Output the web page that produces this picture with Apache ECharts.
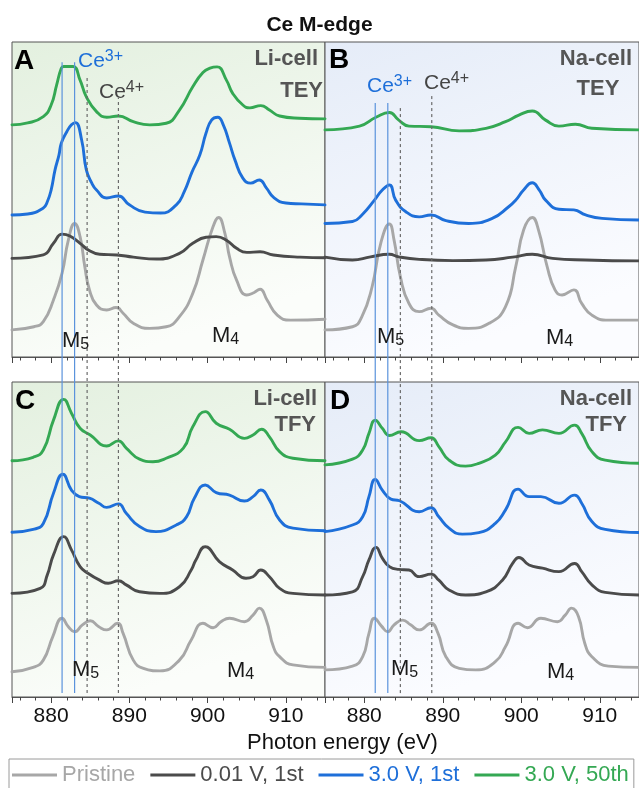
<!DOCTYPE html>
<html><head><meta charset="utf-8">
<script src="https://cdn.jsdelivr.net/npm/echarts@6/dist/echarts.min.js"></script>
<style>html,body{margin:0;padding:0;background:#fff}#c{width:639px;height:788px}</style>
</head><body><div id="c"></div>
<script>
// ---------- DATA (photon energy eV, normalized intensity with vertical offsets) ----------
const seriesNames = ['Pristine', '0.01 V, 1st', '3.0 V, 1st', '3.0 V, 50th'];

// Panel A: Li-cell TEY
const liTEY_pristine = [[875,8.6],[877.8,9.6],[879,11.2],[880.3,18.1],[881.4,26.6],[882.2,37.1],[883.0,42.4],[883.7,38.2],[884.3,28.7],[884.9,21.3],[885.8,16.5],[887.1,14.9],[888.3,15.7],[889.2,13.9],[890.5,10.7],[892.6,9.1],[894.7,9.6],[896.4,12.8],[898.1,20.2],[899.4,30.8],[900.7,41.4],[901.4,44.3],[902.2,39.3],[902.8,31.8],[903.7,24.4],[905,19.7],[905.9,20.4],[906.7,21.5],[907.6,18.1],[908.9,13.3],[910.6,11.7],[915,12.0]];
const liTEY_low = [[875,31.3],[879,32.4],[880.3,36.1],[881.4,39.0],[882.4,38.4],[883.7,36.1],[884.75,34.0],[886.2,32.6],[888.4,32.4],[890.5,31.7],[893.5,31.1],[896.4,32.9],[898.1,36.1],[899.8,38.0],[901.1,38.2],[902.4,37.1],[903.7,34.5],[905,33.2],[906.7,33.4],[908.4,32.4],[911.8,31.7],[915,31.5]];
const liTEY_c1 = [[875,45.1],[877,45.4],[879,47.3],[879.5,49.2],[880,53.0],[880.5,59.4],[881,64.1],[881.3,67.9],[882,71.5],[882.6,73.7],[883.1,74.4],[883.9,68.9],[884.5,59.4],[885.2,55.2],[885.8,53.0],[887.1,50.5],[888.6,51.1],[890,48.3],[892,46.0],[894,45.7],[896,48.3],[897,52.4],[898,58.7],[899,64.1],[899.8,71.1],[900.5,75.2],[901.3,76.1],[902,73.7],[902.8,67.9],[903.5,62.5],[904.5,56.8],[905.5,55.2],[906.6,56.2],[907.5,53.7],[908.5,50.5],[910,48.9],[912,48.6],[915,48.3]];
const liTEY_c50 = [[875,73.7],[877,74.3],[879,76.3],[880,80.0],[880.7,86.3],[881.3,91.7],[881.6,92.2],[882.8,92.2],[883.7,87.9],[884.5,82.6],[885.8,77.9],[887.1,76.1],[888.6,76.5],[890.5,74.7],[892.6,73.7],[894.7,74.2],[896.4,78.4],[898.1,85.8],[899.4,90.3],[900.3,91.7],[901.2,92.1],[902.4,87.9],[903.2,83.7],[904.5,80.0],[905.4,79.1],[906.8,79.8],[907.9,78.4],[909.2,76.5],[911.7,75.8],[915,75.6]];

// Panel B: Na-cell TEY
const naTEY_pristine = [[875,8.6],[878.5,9.6],[879.7,12.8],[881,22.3],[882.1,36.1],[883.2,42.2],[883.8,37.1],[884.6,25.5],[885.7,17.0],[887,14.4],[888.5,15.5],[889.5,13.3],[891.3,10.2],[893.3,9.1],[895.9,10.7],[898,16.0],[899.3,28.7],[900.3,40.3],[901.4,44.3],[902.2,40.3],[903.3,28.7],[904.3,21.3],[905.2,19.7],[906.7,21.3],[907.7,17.0],[909,13.3],[911.1,11.7],[915,11.7]];
const naTEY_low = [[875,31.7],[878.5,30.8],[880.8,31.8],[883.2,32.6],[884.4,31.8],[887,31.0],[891.3,30.6],[895.5,30.8],[898.9,31.7],[901.4,32.6],[904,31.3],[908.2,30.8],[915,30.5]];
const naTEY_c1 = [[875,42.4],[878.5,43.0],[879.7,45.1],[881.3,49.8],[882.3,53.0],[883.2,54.6],[884,49.8],[885.3,46.1],[887,44.5],[888.5,45.1],[890.4,43.3],[893.3,42.4],[896.3,44.0],[898.4,47.7],[899.3,49.8],[900.3,53.0],[901.4,55.3],[902.3,53.0],[903.1,49.8],[904.8,46.9],[906.7,46.7],[908.2,45.1],[910.3,44.0],[915,43.5]];
const naTEY_c50 = [[875,72.1],[879.4,73.3],[881.5,76.1],[883.2,77.6],[884.4,75.2],[885.7,73.3],[888.5,73.1],[892.1,71.8],[895.5,72.6],[898,74.7],[899.7,76.8],[901.4,78.1],[903.1,75.2],[904.8,73.3],[906.9,73.9],[909,72.6],[915,72.1]];

// Panel C: Li-cell TFY
const liTFY_pristine = [[875,8.0],[877.7,9.4],[879,11.7],[880.2,19.1],[881.4,25.0],[882.2,22.3],[883,20.7],[884,22.9],[885,24.2],[886.1,22.3],[887.1,21.3],[888.5,23.4],[889.2,20.2],[890.5,11.7],[891.8,9.1],[893.9,8.3],[896.4,11.7],[897.9,18.1],[899.4,23.4],[900.7,22.0],[901.7,23.9],[902.8,25.0],[904.7,23.9],[905.8,26.0],[906.6,28.2],[907.5,24.4],[908.4,16.0],[909.2,12.8],[910.9,10.2],[915,9.4]];
const liTFY_low = [[875,32.9],[878.6,34.5],[879.5,38.7],[880.3,45.1],[881.6,50.9],[882.6,46.7],[883.7,41.4],[884.7,39.3],[886.2,37.1],[887.3,36.1],[888.6,36.9],[889.6,35.6],[891.3,33.4],[893.9,32.9],[896.4,35.0],[897.9,40.3],[898.5,43.5],[899.7,47.7],[901.5,43.0],[903.2,40.3],[904.9,37.7],[905.8,38.2],[906.8,40.3],[907.9,38.2],[909.2,34.5],[910.9,32.9],[915,32.4]];
const liTFY_c1 = [[875,52.3],[877.7,53.2],[879,55.1],[880.3,64.7],[881.5,70.7],[882.6,65.7],[883.6,63.6],[884.9,63.1],[886.1,61.5],[887.1,60.2],[888.6,61.3],[889.6,58.3],[891.3,54.1],[893.4,52.5],[896,54.6],[897.3,57.2],[898.3,63.1],[899.7,67.3],[901.1,64.9],[902.8,64.1],[904.7,62.2],[905.8,63.6],[906.8,65.7],[907.9,62.5],[909.2,56.2],[910.9,53.6],[915,52.8]];
const liTFY_c50 = [[875,75.0],[877.7,76.1],[879,78.4],[880.3,87.9],[881.6,94.5],[882.6,90.1],[883.7,85.3],[885,83.2],[887.1,79.7],[888.6,81.3],[889.6,79.0],[891.3,75.5],[893,74.7],[894.7,75.8],[896.9,79.0],[898.1,85.8],[899.7,90.6],[901.1,86.9],[902.8,85.0],[904.7,82.1],[905.8,83.2],[906.9,85.0],[907.9,82.6],[909.2,77.9],[910.9,75.8],[915,75.0]];

// Panel D: Na-cell TFY
const naTFY_pristine = [[875,8.6],[878.5,9.8],[879.8,12.8],[880.6,20.2],[881.3,25.0],[882.2,22.5],[883,20.7],[883.8,22.9],[884.9,24.4],[885.9,22.9],[887,21.3],[888.5,23.4],[889.4,20.2],[890.4,12.8],[892.1,9.1],[894.2,8.6],[896.7,11.2],[898,16.0],[899.6,23.4],[900.8,22.0],[902.5,25.0],[904.6,23.9],[905.6,26.0],[906.4,28.2],[907.3,25.5],[908.1,17.0],[909,12.8],[911.1,9.8],[915,9.4]];
const naTFY_low = [[875,32.4],[878.5,33.4],[879.8,38.2],[880.6,43.5],[881.5,47.5],[882.3,44.1],[883.2,41.4],[884.4,40.5],[885.7,40.3],[887,38.2],[888.5,39.0],[889.5,37.1],[890.8,34.0],[892.9,32.4],[895.5,33.4],[897.6,37.1],[898.9,42.4],[899.7,44.3],[901,41.9],[902.7,40.9],[904.8,39.8],[906.8,42.4],[907.7,39.8],[909,35.6],[910.7,33.2],[915,32.4]];
const naTFY_c1 = [[875,52.5],[878.5,54.6],[879.8,57.2],[880.6,63.6],[881.4,69.1],[882.3,65.7],[883.4,62.8],[884.5,62.3],[887,58.8],[888.5,60.1],[889.5,57.2],[890.8,53.6],[892.5,51.7],[894.6,52.2],[896.7,55.1],[898,59.4],[899.6,66.0],[901,63.6],[902.5,63.6],[904.8,61.5],[906.8,64.1],[907.7,61.5],[909,55.7],[910.7,53.2],[915,52.2]];
const naTFY_c50 = [[875,73.7],[878.5,75.5],[879.8,78.4],[880.6,83.7],[881.4,87.9],[882.3,85.3],[883.2,83.0],[884.7,84.2],[887,81.4],[888.5,82.3],[889.5,79.5],[890.8,75.2],[892.9,73.3],[894.6,74.2],[896.7,76.8],[898,81.0],[899.6,85.6],[901,83.7],[902.7,84.8],[904.8,83.7],[906.8,86.3],[907.7,83.7],[909,77.9],[910.7,75.2],[915,74.2]];

// Reference energies
const ce3Energies = [881.4, 883.0];
const ce4Energies = [884.6, 888.6];

// ---------- STYLE / LAYOUT ----------
const FONT = '"Liberation Sans", Arial, Helvetica, sans-serif';
const seriesColors = ['#a7a7a7', '#4b4b4b', '#1e6fd9', '#34a853'];
const greenBg = {type:'linear', x:0, y:0, x2:0.35, y2:1, colorStops:[{offset:0,color:'#e3f0df'},{offset:1,color:'#fbfdfa'}]};
const blueBg  = {type:'linear', x:0, y:0, x2:0.35, y2:1, colorStops:[{offset:0,color:'#e5ecf8'},{offset:1,color:'#fbfcff'}]};

const panels = [
  {grid:{left:12, top:42, width:313, height:315}, bg:greenBg, labels:false, curves:[liTEY_pristine, liTEY_low, liTEY_c1, liTEY_c50]},
  {grid:{left:325, top:42, width:315, height:315}, bg:blueBg, labels:false, curves:[naTEY_pristine, naTEY_low, naTEY_c1, naTEY_c50]},
  {grid:{left:12, top:382, width:313, height:315}, bg:greenBg, labels:true, curves:[liTFY_pristine, liTFY_low, liTFY_c1, liTFY_c50]},
  {grid:{left:325, top:382, width:315, height:315}, bg:blueBg, labels:true, curves:[naTFY_pristine, naTFY_low, naTFY_c1, naTFY_c50]}
];
// overlay columns for reference lines (span both rows); y in fraction of column height
const columns = [
  {grid:{left:12, top:42, width:313, height:655}, ce3Top:0.969, ce4Top:[0.945, 0.915], bottom:0.006},
  {grid:{left:325, top:42, width:315, height:655}, ce3Top:0.907, ce4Top:[0.902, 0.922], bottom:0.006}
];

const grids = [], xAxes = [], yAxes = [], series = [];
panels.forEach((p, i) => {
  grids.push(Object.assign({show:true, backgroundColor:p.bg, borderColor:'#555', borderWidth:1, containLabel:false}, p.grid));
  xAxes.push({
    gridIndex:i, type:'value', min:875, max:915,
    axisLine:{show:true, onZero:false, lineStyle:{color:'#555', width:1}},
    axisTick:{show:true, inside:false, length:6, lineStyle:{color:'#444', width:1}},
    minorTick:{show:true, splitNumber:5, length:3.5, lineStyle:{color:'#444', width:1}},
    splitLine:{show:false}, minorSplitLine:{show:false},
    axisLabel:{show:p.labels, fontSize:21, color:'#111', fontFamily:FONT, margin:9,
      showMinLabel:false, showMaxLabel:false,
      formatter: v => (Math.abs(v % 10) < 1e-6 ? String(v) : '')}
  });
  yAxes.push({gridIndex:i, type:'value', min:0, max:100, show:false});
  p.curves.forEach((data, k) => {
    series.push({
      type:'line', name:seriesNames[k], xAxisIndex:i, yAxisIndex:i, data:data,
      smooth:0.5, symbol:'none', showSymbol:false, silent:true, z:2,
      color:seriesColors[k], lineStyle:{width:2.9, color:seriesColors[k], cap:'round', join:'round'}
    });
  });
});
columns.forEach((c, j) => {
  const gi = panels.length + j;
  grids.push(Object.assign({show:false}, c.grid));
  xAxes.push({gridIndex:gi, type:'value', min:875, max:915, show:false});
  yAxes.push({gridIndex:gi, type:'value', min:0, max:1, show:false});
  ce3Energies.forEach(e => series.push({
    type:'line', xAxisIndex:gi, yAxisIndex:gi, data:[[e, c.bottom],[e, c.ce3Top]],
    symbol:'none', silent:true, z:3, lineStyle:{color:'#5a93dc', width:1.2}
  }));
  ce4Energies.forEach((e, m) => series.push({
    type:'line', xAxisIndex:gi, yAxisIndex:gi, data:[[e, c.bottom],[e, c.ce4Top[m]]],
    symbol:'none', silent:true, z:3, lineStyle:{color:'#6a6a6a', width:1.2, type:[3,3]}
  }));
});

// ---------- TEXT ANNOTATIONS ----------
function txt(text, x, y, opt) {
  return {type:'text', x:x, y:y, silent:true, z:10, style:Object.assign({
    text:text, fontFamily:FONT, fontSize:22, fill:'#222', align:'left', textAlign:'left',
    verticalAlign:'middle', textVerticalAlign:'middle'}, opt || {})};
}
function ion(x, y, num, color) {
  return txt('{m|Ce}{s|' + num + '}', x, y, {fill:color, rich:{
    m:{fontSize:21, fontFamily:FONT, fill:color, lineHeight:23, verticalAlign:'bottom'},
    s:{fontSize:16, fontFamily:FONT, fill:color, lineHeight:15, verticalAlign:'top'}}});
}
function mEdge(x, y, num) {
  return txt('{m|M}{s|' + num + '}', x, y, {fill:'#1a1a1a', rich:{
    m:{fontSize:22, fontFamily:FONT, fill:'#1a1a1a', lineHeight:23, verticalAlign:'top'},
    s:{fontSize:16, fontFamily:FONT, fill:'#1a1a1a', lineHeight:16, padding:[10,0,0,0], verticalAlign:'bottom'}}});
}
const bold = (extra) => Object.assign({fontWeight:'bold', fill:'#555'}, extra);
const graphics = [
  txt('A', 14, 61, {fontSize:28, fontWeight:'bold', fill:'#000'}),
  txt('B', 329, 60, {fontSize:28, fontWeight:'bold', fill:'#000'}),
  txt('C', 15, 401, {fontSize:28, fontWeight:'bold', fill:'#000'}),
  txt('D', 330, 401, {fontSize:28, fontWeight:'bold', fill:'#000'}),
  txt('Li-cell', 318, 58.5, bold({align:'right', textAlign:'right'})),
  txt('TEY', 323, 91, bold({align:'right', textAlign:'right'})),
  txt('Na-cell', 632, 58.5, bold({align:'right', textAlign:'right'})),
  txt('TEY', 598, 89, bold({align:'center', textAlign:'center'})),
  txt('Li-cell', 317, 399, bold({align:'right', textAlign:'right'})),
  txt('TFY', 316, 424.5, bold({align:'right', textAlign:'right'})),
  txt('Na-cell', 632, 399, bold({align:'right', textAlign:'right'})),
  txt('TFY', 627, 424.5, bold({align:'right', textAlign:'right'})),
  ion(78, 60, '3+', '#1e6fd9'),
  ion(99, 91, '4+', '#444'),
  ion(367, 85, '3+', '#1e6fd9'),
  ion(424, 82.5, '4+', '#444'),
  mEdge(62, 341, '5'), mEdge(212, 336, '4'),
  mEdge(377, 337, '5'), mEdge(546, 338, '4'),
  mEdge(72, 670, '5'), mEdge(227, 671, '4'),
  mEdge(391, 669, '5'), mEdge(547, 672, '4'),
  txt('Photon energy (eV)', 342.5, 743, {align:'center', textAlign:'center', fill:'#111'})
];

const chart = echarts.init(document.getElementById('c'), null, {renderer:'canvas'});
chart.setOption({
  animation:false,
  backgroundColor:'#fff',
  title:{text:'Ce M-edge', left:'center', top:10, textStyle:{fontSize:21, fontWeight:'bold', color:'#111', fontFamily:FONT}},
  legend:{
    data:seriesNames.map((n, k) => ({name:n, textStyle:{color:seriesColors[k]}})),
    left:9, top:759, width:720, orient:'horizontal', selectedMode:false,
    icon:'rect', itemWidth:45, itemHeight:3, itemGap:15,
    padding:[5, 5, 14, 3], borderColor:'#9a9a9a', borderWidth:1,
    textStyle:{fontSize:22, fontFamily:FONT}
  },
  grid:grids, xAxis:xAxes, yAxis:yAxes, series:series, graphic:graphics
});
</script></body></html>
